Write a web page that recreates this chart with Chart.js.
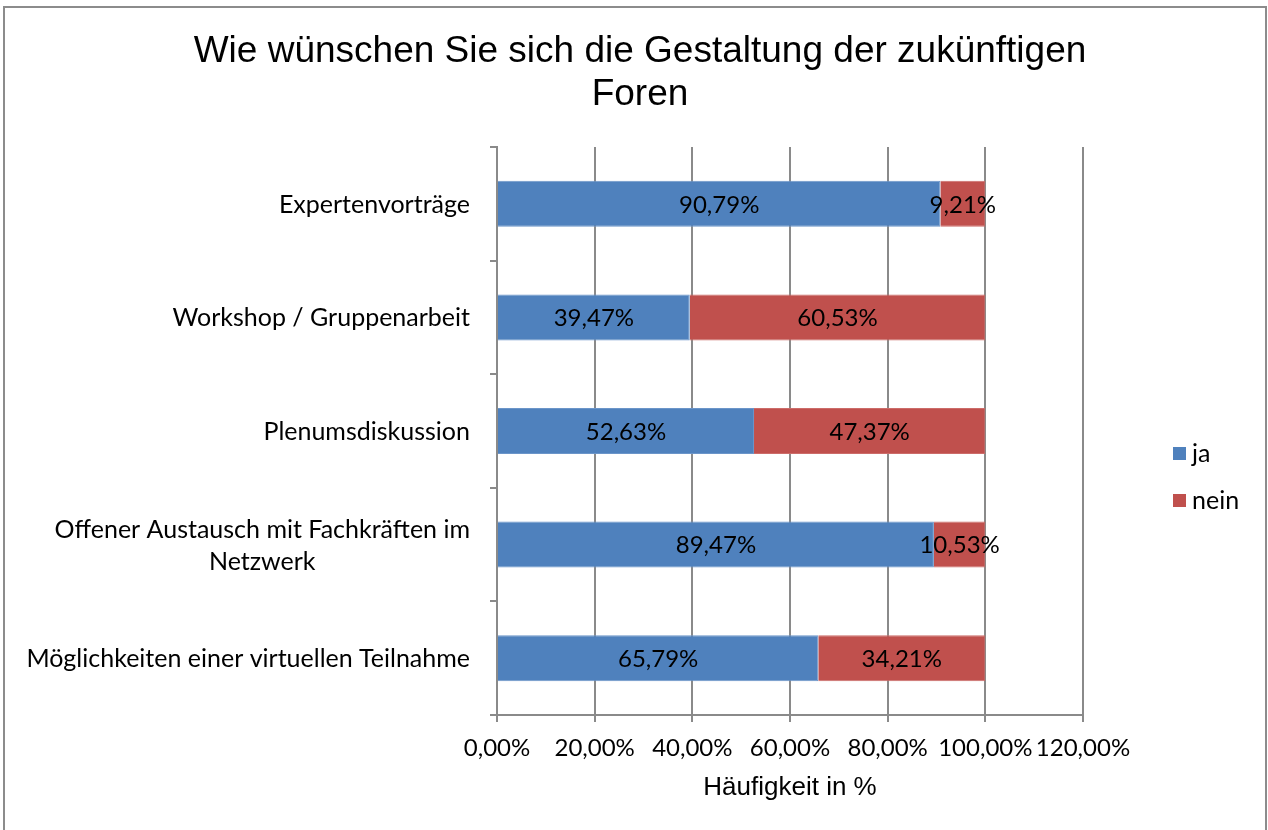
<!DOCTYPE html>
<html>
<head>
<meta charset="utf-8">
<script src="https://cdn.jsdelivr.net/npm/chart.js@4.4.0/dist/chart.umd.min.js"></script>
<style>
  html, body { margin: 0; padding: 0; background: #fff; }
  #wrap { position: relative; width: 1268px; height: 830px; overflow: hidden; }
  #frame { position: absolute; left: 3px; top: 6px; width: 1260px; height: 900px; border: 2px solid #8c8c8c; pointer-events: none; }
</style>
</head>
<body>
<div id="wrap">
  <canvas id="chart" width="1268" height="830"></canvas>
  <div id="frame"></div>
</div>
<script>
    // ============================================
    // DATA
    // ============================================
    const titleLines = ['Wie wünschen Sie sich die Gestaltung der zukünftigen', 'Foren'];
    const categories = [
        ['Expertenvorträge'],
        ['Workshop / Gruppenarbeit'],
        ['Plenumsdiskussion'],
        ['Offener Austausch mit Fachkräften im', 'Netzwerk'],
        ['Möglichkeiten einer virtuellen Teilnahme']
    ];
    const jaValues = [90.79, 39.47, 52.63, 89.47, 65.79];
    const neinValues = [9.21, 60.53, 47.37, 10.53, 34.21];
    const seriesNames = ['ja', 'nein'];
    const xTicks = [0, 20, 40, 60, 80, 100, 120];
    const xAxisTitle = 'Häufigkeit in %';

    const gridGray = '#8a8a8a';
    const sansFamily = 'Lato, "Open Sans", sans-serif';
    const arialFamily = '"Liberation Sans", Arial, sans-serif';

    function fmtPct(v) {
        return v.toFixed(2).replace('.', ',') + '%';
    }

    function centerText(ctx, text, cx, cy, font) {
        ctx.save();
        ctx.font = font;
        ctx.fillStyle = '#000';
        ctx.textAlign = 'center';
        ctx.textBaseline = 'middle';
        ctx.fillText(text, cx, cy);
        ctx.restore();
    }

    // ============================================
    // PLUGINS: title, segment labels, axis labels, legend
    // ============================================
    const chartTitle = {
        id: 'chartTitle',
        afterDraw(chart) {
            const cx = chart.width / 2 + 6;
            centerText(chart.ctx, titleLines[0], cx, 52, '37px ' + arialFamily);
            centerText(chart.ctx, titleLines[1], cx, 95, '37px ' + arialFamily);
        }
    };

    const segmentLabels = {
        id: 'segmentLabels',
        afterDatasetsDraw(chart) {
            const ctx = chart.ctx;
            ctx.save();
            ctx.font = '24px ' + sansFamily;
            ctx.fillStyle = '#000';
            ctx.textAlign = 'center';
            ctx.textBaseline = 'middle';
            chart.data.datasets.forEach((ds, di) => {
                chart.getDatasetMeta(di).data.forEach((bar, i) => {
                    const p = bar.getProps(['x', 'y', 'base'], true);
                    ctx.fillText(fmtPct(ds.data[i]), (p.x + p.base) / 2, p.y + 1);
                });
            });
            ctx.restore();
        }
    };

    const axisLabels = {
        id: 'axisLabels',
        afterDraw(chart) {
            const ctx = chart.ctx;
            const xScale = chart.scales.x;
            const yScale = chart.scales.y;

            // x tick labels and title
            xTicks.forEach(v => {
                centerText(ctx, fmtPct(v), xScale.getPixelForValue(v), 748, '24px ' + sansFamily);
            });
            centerText(ctx, xAxisTitle, (xScale.left + xScale.right) / 2, 788, '26px ' + arialFamily);

            // category labels: block right aligned, lines centered in block
            const rightEdge = yScale.right - 27;
            const lineH = 32;
            ctx.save();
            ctx.font = '25px ' + sansFamily;
            ctx.fillStyle = '#000';
            ctx.textAlign = 'center';
            ctx.textBaseline = 'middle';
            categories.forEach((lines, i) => {
                const cy = yScale.getPixelForTick(i);
                const w = Math.max(...lines.map(l => ctx.measureText(l).width));
                const cx = rightEdge - w / 2;
                const y0 = cy - (lines.length - 1) * lineH / 2;
                lines.forEach((l, k) => ctx.fillText(l, cx, y0 + k * lineH + 1));
            });
            ctx.restore();
        }
    };

    const sideLegend = {
        id: 'sideLegend',
        afterDraw(chart) {
            const ctx = chart.ctx;
            const area = chart.chartArea;
            const x = area.right + 90;
            const midY = (area.top + area.bottom) / 2;
            ctx.save();
            ctx.font = '25px ' + sansFamily;
            ctx.textBaseline = 'middle';
            ctx.textAlign = 'left';
            chart.data.datasets.forEach((ds, i) => {
                const y = midY + 22 + i * 47;
                ctx.fillStyle = ds.backgroundColor;
                ctx.fillRect(x, y - 6, 13, 13);
                ctx.fillStyle = '#000';
                ctx.fillText(ds.label, x + 19, y + 1);
            });
            ctx.restore();
        }
    };

    // ============================================
    // CHART
    // ============================================
    new Chart(document.getElementById('chart'), {
        type: 'bar',
        data: {
            labels: categories.map(c => c.join(' ')),
            datasets: [{
                label: seriesNames[0],
                data: jaValues,
                backgroundColor: '#4F81BD',
                borderColor: '#6b95c9',
                borderWidth: 1,
                categoryPercentage: 1,
                barPercentage: 0.405
            }, {
                label: seriesNames[1],
                data: neinValues,
                backgroundColor: '#C0504D',
                borderColor: '#cc6c69',
                borderWidth: 1,
                categoryPercentage: 1,
                barPercentage: 0.405
            }]
        },
        options: {
            indexAxis: 'y',
            responsive: false,
            animation: false,
            layout: { padding: { top: 147, right: 185, bottom: 0, left: 0 } },
            plugins: {
                legend: { display: false },
                tooltip: { enabled: false },
                title: { display: false }
            },
            scales: {
                x: {
                    stacked: true,
                    min: 0,
                    max: 120,
                    afterBuildTicks: function(scale) {
                        scale.ticks = xTicks.map(v => ({ value: v }));
                    },
                    afterFit: function(scale) {
                        scale.height = 115;
                    },
                    ticks: { display: false },
                    grid: {
                        color: gridGray,
                        lineWidth: 2,
                        tickLength: 7
                    },
                    border: { color: gridGray, width: 2 }
                },
                y: {
                    stacked: true,
                    afterFit: function(scale) {
                        scale.width = 497;
                    },
                    ticks: { display: false },
                    grid: {
                        offset: true,
                        drawOnChartArea: false,
                        color: gridGray,
                        lineWidth: 2,
                        tickLength: 7
                    },
                    border: { color: gridGray, width: 2 }
                }
            }
        },
        plugins: [segmentLabels, axisLabels, sideLegend, chartTitle]
    });
</script>
</body>
</html>
